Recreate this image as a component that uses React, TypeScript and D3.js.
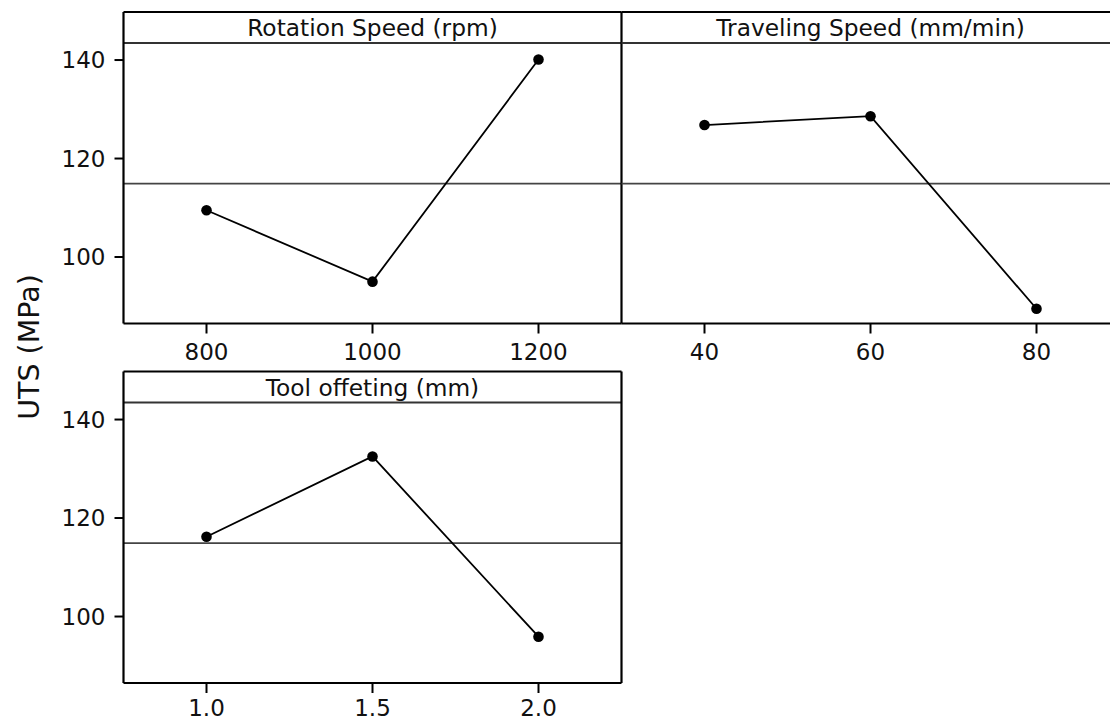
import React from "react";
import * as d3 from "d3";

const rotationLevels = [800, 1000, 1200];
const rotationUTS = [109.5, 95.0, 140.1];
const travelLevels = [40, 60, 80];
const travelUTS = [126.8, 128.6, 89.5];
const offsetLevels = [1.0, 1.5, 2.0];
const offsetUTS = [116.2, 132.5, 95.9];
const yTicks = [100, 120, 140];
const meanUTS = 114.9;
const yDomain = [86.5, 143.46];
const yLabel = "UTS (MPa)";

const FONT = "'DejaVu Sans', Verdana, sans-serif";

type PanelProps = {
  title: string;
  levels: number[];
  values: number[];
  left: number;
  top: number;
  width: number;
  fmt: (v: number) => string;
  showYAxis: boolean;
  showLeftBorder: boolean;
};

function Panel({ title, levels, values, left, top, width, fmt, showYAxis, showLeftBorder }: PanelProps) {
  const headerH = 31;
  const bottom = top + 311.5;
  const step = levels[1] - levels[0];
  const x = d3
    .scaleLinear()
    .domain([levels[0] - step / 2, levels[levels.length - 1] + step / 2])
    .range([left, left + width]);
  const y = d3.scaleLinear().domain(yDomain).range([bottom, top + headerH]);
  const pts: [number, number][] = levels.map((l, i) => [x(l), y(values[i])]);
  const line = d3.line()(pts) || "";
  const right = left + width;
  const labelY = Math.min(bottom + 36, 715.5);
  return (
    <g>
      <line x1={left} x2={right} y1={y(meanUTS)} y2={y(meanUTS)} stroke="#444" strokeWidth={1.6} />
      <path d={line} fill="none" stroke="#000" strokeWidth={1.8} />
      {pts.map((p, i) => (
        <circle key={i} cx={p[0]} cy={p[1]} r={5.3} fill="#000" />
      ))}
      <line x1={left} x2={right} y1={top + headerH} y2={top + headerH} stroke="#333" strokeWidth={2} />
      <text x={(left + right) / 2} y={top + 24} textAnchor="middle" fontFamily={FONT} fontSize={23.3} fill="#111">
        {title}
      </text>
      <line x1={left} x2={right} y1={top} y2={top} stroke="#000" strokeWidth={2.2} />
      <line x1={left} x2={right} y1={bottom} y2={bottom} stroke="#000" strokeWidth={2.2} />
      {showLeftBorder && <line x1={left} x2={left} y1={top} y2={bottom} stroke="#000" strokeWidth={2.2} />}
      <line x1={right} x2={right} y1={top} y2={bottom} stroke="#000" strokeWidth={2.2} />
      {levels.map((l, i) => (
        <g key={i}>
          <line x1={x(l)} x2={x(l)} y1={bottom} y2={bottom + 10} stroke="#000" strokeWidth={2} />
          <text x={x(l)} y={labelY} textAnchor="middle" fontFamily={FONT} fontSize={23} fill="#111">
            {fmt(l)}
          </text>
        </g>
      ))}
      {showYAxis &&
        yTicks.map((t, i) => (
          <g key={i}>
            <line x1={left - 9} x2={left} y1={y(t)} y2={y(t)} stroke="#000" strokeWidth={2} />
            <text x={left - 18} y={y(t)} dy="0.36em" textAnchor="end" fontFamily={FONT} fontSize={23} fill="#111">
              {t}
            </text>
          </g>
        ))}
    </g>
  );
}

export default function App() {
  const fmtInt = d3.format("d");
  const fmt1 = d3.format(".1f");
  const W = 498;
  return (
    <svg
      width={1110}
      height={720}
      style={{ position: "absolute", left: 0, top: 0, background: "#fff", overflow: "hidden" }}
    >
      <rect width={1110} height={720} fill="#fff" />
      <Panel title="Rotation Speed (rpm)" levels={rotationLevels} values={rotationUTS} left={123.5} top={12} width={W} fmt={fmtInt} showYAxis={true} showLeftBorder={true} />
      <Panel title="Traveling Speed (mm/min)" levels={travelLevels} values={travelUTS} left={621.5} top={12} width={W} fmt={fmtInt} showYAxis={false} showLeftBorder={false} />
      <Panel title="Tool offeting (mm)" levels={offsetLevels} values={offsetUTS} left={123.5} top={371.5} width={W} fmt={fmt1} showYAxis={true} showLeftBorder={true} />
      <text
        transform={`translate(39, 347) rotate(-90)`}
        textAnchor="middle"
        fontFamily={FONT}
        fontSize={28.5}
        fill="#111"
      >
        {yLabel}
      </text>
    </svg>
  );
}
